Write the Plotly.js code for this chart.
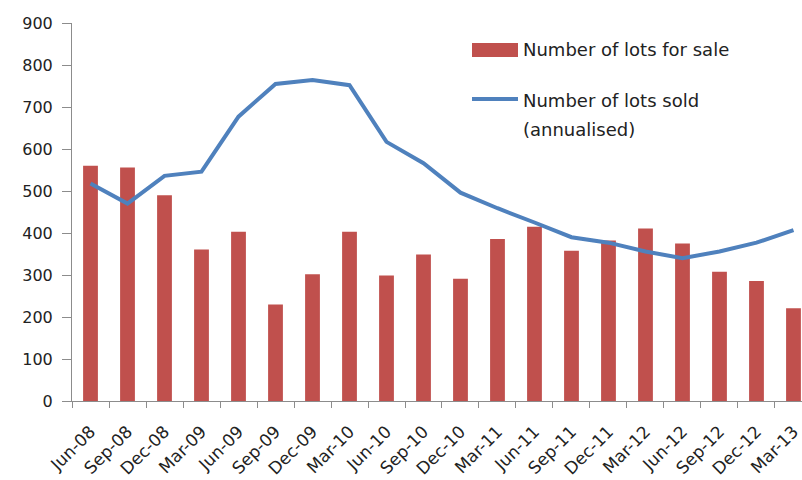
<!DOCTYPE html>
<html>
<head>
<meta charset="utf-8">
<script src="https://cdn.plot.ly/plotly-3.0.1.min.js"></script>
<style>html,body{margin:0;padding:0;background:#fff;}#chart{width:802px;height:480px;}</style>
</head>
<body>
<div id="chart"></div>
<script>
const categories = ["Jun-08","Sep-08","Dec-08","Mar-09","Jun-09","Sep-09","Dec-09","Mar-10","Jun-10","Sep-10","Dec-10","Mar-11","Jun-11","Sep-11","Dec-11","Mar-12","Jun-12","Sep-12","Dec-12","Mar-13"];
const lotsForSale = [560,556,490,361,403,230,302,403,299,349,291,386,415,358,382,411,375,308,286,221];
const lotsSold = [518,470,536,546,677,755,764,752,617,566,496,459,425,390,377,356,340,356,377,407];
const seriesNames = ["Number of lots for sale","Number of lots sold (annualised)"];
const legendLines = [["Number of lots for sale"],["Number of lots sold","(annualised)"]];
const yTicks = [0,100,200,300,400,500,600,700,800,900];

const font = "DejaVu Sans, sans-serif";
const barColor = "#C0504D", lineColor = "#4F81BD";
const M = {l:72, r:0, t:23, b:79};
const W = 802, H = 480;
const pw = W - M.l - M.r, ph = H - M.t - M.b;
const px = v => (v - M.l) / pw;          // pixel -> paper x
const py = v => (H - M.b - v) / ph;      // pixel -> paper y

const traces = [
  {type:"bar", x:categories, y:lotsForSale, name:seriesNames[0], marker:{color:barColor}},
  {type:"scatter", mode:"lines", x:categories, y:lotsSold, name:seriesNames[1],
   line:{color:lineColor, width:4}}
];

const shapes = [
  {type:"rect", xref:"paper", yref:"paper", x0:px(472), x1:px(518), y0:py(57), y1:py(43),
   fillcolor:barColor, line:{width:0}},
  {type:"line", xref:"paper", yref:"paper", x0:px(472), x1:px(518), y0:py(99), y1:py(99),
   line:{color:lineColor, width:4}}
];
const lineYs = [[50],[100,129]];
const annotations = [];
legendLines.forEach((lines, i) => lines.forEach((t, j) => annotations.push({
  xref:"paper", yref:"paper", x:px(521), y:py(lineYs[i][j]), xanchor:"left", yanchor:"middle",
  text:t, showarrow:false, font:{family:font, size:18, color:"#222"}
})));

const layout = {
  width:W, height:H,
  margin:M,
  paper_bgcolor:"#fff", plot_bgcolor:"#fff",
  font:{family:font, size:17, color:"#222"},
  bargap:0.6,
  showlegend:false,
  shapes, annotations,
  xaxis:{type:"category", range:[-0.5,19.23], showline:true, linecolor:"#8c8c8c", linewidth:1,
         ticks:"outside", tickson:"boundaries", ticklen:6, tickcolor:"#8c8c8c",
         tickangle:-45, showgrid:false, zeroline:false, ticklabelstandoff:13,
         tickfont:{family:font, size:17, color:"#222"}},
  yaxis:{range:[0,900], tickvals:yTicks, showline:true, linecolor:"#8c8c8c", linewidth:1,
         ticks:"outside", ticklen:9, tickcolor:"#8c8c8c", showgrid:false, zeroline:false,
         ticklabelstandoff:6, tickfont:{family:font, size:16, color:"#222"}}
};
Plotly.newPlot("chart", traces, layout, {displayModeBar:false, staticPlot:true});
</script>
</body>
</html>
